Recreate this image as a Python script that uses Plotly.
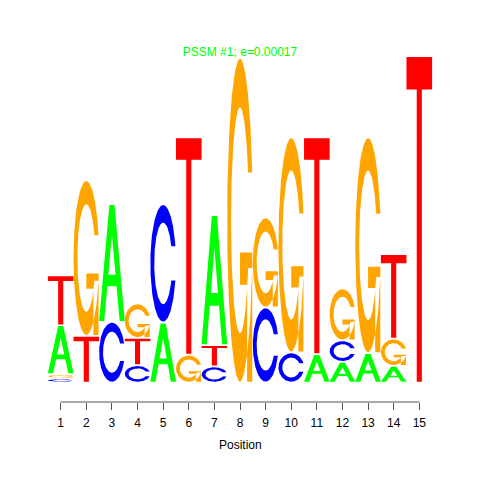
import numpy as np
import plotly.graph_objects as go

# ---------------- data (letter heights in bits, per position) ----------------
positions = list(range(1, 16))
tick_labels = [str(p) for p in positions]
A = [0.278, 0.0, 0.682, 0.0, 0.343, 0.0, 0.755, 0.0, 0.0, 0.0, 0.157, 0.112, 0.163, 0.088, 0.0]
C = [0.014, 0.0, 0.347, 0.092, 0.686, 0.0, 0.085, 0.0, 0.432, 0.167, 0.0, 0.116, 0.0, 0.0, 0.0]
G = [0.015, 0.905, 0.0, 0.192, 0.0, 0.154, 0.0, 1.900, 0.519, 1.255, 0.0, 0.296, 1.259, 0.151, 0.0]
T = [0.283, 0.265, 0.0, 0.151, 0.0, 1.268, 0.115, 0.0, 0.0, 0.0, 1.265, 0.0, 0.0, 0.486, 1.910]
title_text = "PSSM #1; e=0.00017"
x_label = "Position"

letters = ["A", "C", "G", "T"]
heights = {"A": A, "C": C, "G": G, "T": T}
colors = {"A": "#00FF00", "C": "#0000FF", "G": "#FFA500", "T": "#FF0000"}
GAP = 0.01
WT = 1.0

# ---------------- glyph outlines in unit square (seqLogo style) ----------------
def glyph_A():
    x = np.array([0, 4, 6, 10, 8, 6.8, 3.2, 2, 0]) * 0.1
    y = np.array([0, 10, 10, 0, 0, 3, 3, 0, 0]) * 0.1
    xi = np.array([3.6, 5, 6.4, 3.6]) * 0.1
    yi = np.array([4, 7.5, 4, 4]) * 0.1
    return [(x, y)], [(xi, yi)]

def glyph_T():
    x = np.array([0, 10, 10, 6, 6, 4, 4, 0, 0]) * 0.1
    y = np.array([10, 10, 9, 9, 0, 0, 9, 9, 10]) * 0.1
    return [(x, y)], []

def c_ring():
    a1 = np.linspace(0.3 + np.pi / 2, np.pi, 100)
    a2 = np.linspace(np.pi, 1.5 * np.pi, 100)
    xl1 = 0.5 + 0.5 * np.sin(a1); yl1 = 0.5 + 0.5 * np.cos(a1)
    xl2 = 0.5 + 0.5 * np.sin(a2); yl2 = 0.5 + 0.5 * np.cos(a2)
    xl = np.concatenate([xl1, xl2]); yl = np.concatenate([yl1, yl2])
    x = np.concatenate([xl, xl[::-1]]); y = np.concatenate([yl, 1 - yl[::-1]])
    xi1 = 0.5 + 0.35 * np.sin(a1); yi1 = 0.5 + 0.35 * np.cos(a1)
    keep = yi1 <= yl1.max()
    xi1 = xi1[keep]; yi1 = yi1[keep].copy(); yi1[0] = yl1.max()
    xi2 = 0.5 + 0.35 * np.sin(a2); yi2 = 0.5 + 0.35 * np.cos(a2)
    xi = np.concatenate([xi1, xi2]); yi = np.concatenate([yi1, yi2])
    x1 = np.concatenate([xi, xi[::-1]]); y1 = np.concatenate([yi, 1 - yi[::-1]])
    x = np.concatenate([x, x1[::-1], x[:1]]); y = np.concatenate([y, y1[::-1], y[:1]])
    return x, y, xl1.max()

def glyph_C():
    x, y, _ = c_ring()
    return [(x, y)], []

def glyph_G():
    x, y, r1 = c_ring()
    h1 = 0.4
    xa = np.array([r1, 0.5, 0.5, r1 - 0.2, r1 - 0.2, r1, r1])
    ya = np.array([h1, h1, h1 - 0.1, h1 - 0.1, 0, 0, h1])
    return [(x, y), (xa, ya)], []

glyphs = {"A": glyph_A(), "C": glyph_C(), "G": glyph_G(), "T": glyph_T()}

# ---------------- stack letters ----------------
paths = {L: ([], []) for L in letters}
holes = ([], [])
for j, pos in enumerate(positions):
    col = [(heights[L][j], L) for L in letters]
    order = sorted(range(4), key=lambda i: col[i][0])
    ypos = 0.0
    for i in order:
        ht, L = col[i]
        if ht <= 0:
            continue
        solids, hs = glyphs[L]
        for gx, gy in solids:
            paths[L][0].extend(list(pos - 0.5 * WT + WT * gx) + [None])
            paths[L][1].extend(list(ypos + ht * gy) + [None])
        for gx, gy in hs:
            holes[0].extend(list(pos - 0.5 * WT + WT * gx) + [None])
            holes[1].extend(list(ypos + ht * gy) + [None])
        ypos += ht + GAP

fig = go.Figure()
for L in letters:
    fig.add_trace(go.Scatter(
        x=paths[L][0], y=paths[L][1], mode="lines", fill="toself",
        fillcolor=colors[L], line=dict(width=0, color=colors[L]),
        hoverinfo="skip", showlegend=False))
fig.add_trace(go.Scatter(
    x=holes[0], y=holes[1], mode="lines", fill="toself",
    fillcolor="white", line=dict(width=0, color="white"),
    hoverinfo="skip", showlegend=False))

# ---------------- layout (page has an 8px body offset) ----------------
OFF = 8
S = 170.0  # px per bit
plot_left, plot_right = 40 - OFF, 440 - OFF
plot_top, plot_bottom, base_px = 40 - OFF, 402 - OFF, 381.7 - OFF
ymax = (base_px - plot_top) / S
ymin = -(plot_bottom - base_px) / S
px_per_unit = (419.3 - 60.7) / (positions[-1] - positions[0])
x1_px, x15_px = 60.7 - OFF, 419.3 - OFF
xmin = positions[0] - (x1_px - plot_left) / px_per_unit
xmax = positions[-1] + (plot_right - x15_px) / px_per_unit

fig.update_layout(
    width=480, height=480,
    margin=dict(l=plot_left, r=480 - plot_right, t=plot_top, b=480 - plot_bottom, pad=0),
    paper_bgcolor="white", plot_bgcolor="white",
    font=dict(family="Liberation Sans, Arial, sans-serif", size=12, color="#000000"),
    title=dict(text=title_text, x=0.5, xref="paper", xanchor="center",
               y=1 - (52 - OFF) / 480, yref="container", yanchor="middle",
               font=dict(size=12, color="#00FF00")),
    xaxis=dict(range=[xmin, xmax], tickmode="array", tickvals=positions,
               ticktext=tick_labels, showgrid=False, zeroline=False, showline=False,
               ticks="outside", ticklen=7, tickwidth=1, tickcolor="#555555",
               ticklabelstandoff=3, tickfont=dict(size=12, color="#000000"),
               fixedrange=True),
    yaxis=dict(range=[ymin, ymax], visible=False, fixedrange=True),
    shapes=[dict(type="line", xref="x", yref="paper", x0=positions[0], x1=positions[-1],
                 y0=0, y1=0, line=dict(color="#555555", width=1))],
    annotations=[dict(text=x_label, xref="paper", yref="paper", x=0.5,
                      y=(402 - 445) / (plot_bottom - plot_top),
                      xanchor="center", yanchor="middle", showarrow=False,
                      font=dict(size=12, color="#000000"))],
)

fig.write_html("out.html")
